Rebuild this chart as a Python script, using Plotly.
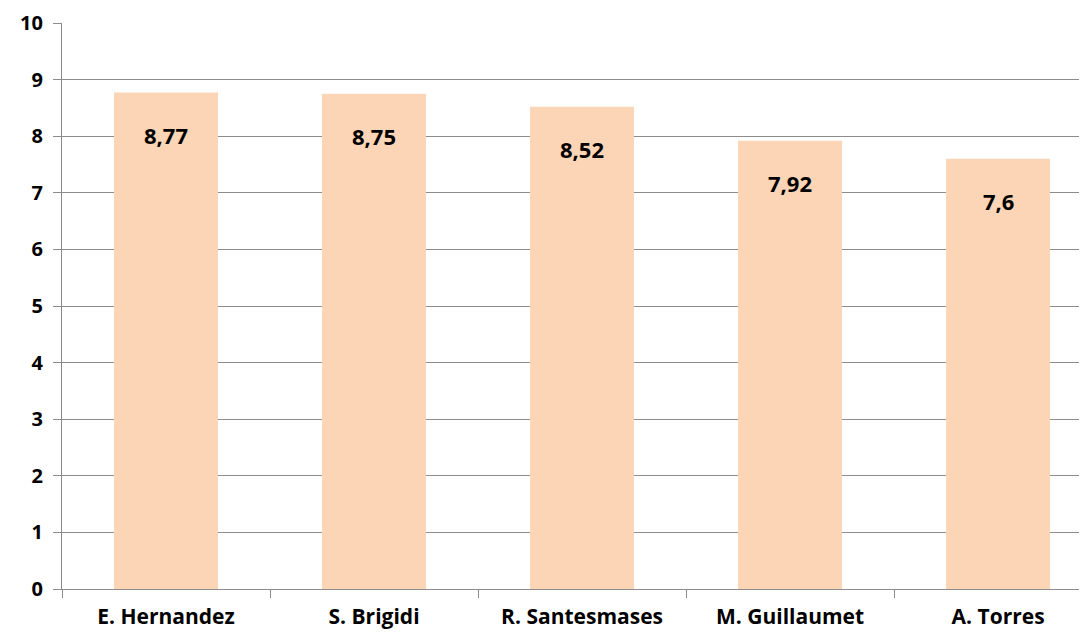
import plotly.graph_objects as go

# data
names = ["E. Hernandez", "S. Brigidi", "R. Santesmases", "M. Guillaumet", "A. Torres"]
scores = [8.77, 8.75, 8.52, 7.92, 7.6]
labels = ["8,77", "8,75", "8,52", "7,92", "7,6"]

BAR = "#FBD5B5"
GRID = "#8C8C8C"
FONT = "Open Sans"

fig = go.Figure(go.Bar(
    x=names, y=scores, marker=dict(color=BAR, line=dict(width=0)),
    width=0.5, hoverinfo="skip",
))

# data labels sit a bit under the top of each bar
for n, s, t in zip(names, scores, labels):
    fig.add_annotation(x=n, y=s, text=t, showarrow=False, yanchor="middle",
                       yshift=-42, font=dict(family=FONT, size=22, color="black", weight=700))

fig.update_layout(
    width=1087, height=634,
    margin=dict(l=54, r=0, t=15, b=53),
    paper_bgcolor="white", plot_bgcolor="white",
    showlegend=False,
    font=dict(family=FONT, size=19, color="black"),
)
fig.update_yaxes(
    range=[0, 10], dtick=1, showgrid=True, gridcolor=GRID, gridwidth=1.3,
    showline=True, linecolor=GRID, linewidth=1.3,
    ticks="outside", ticklen=8, tickcolor=GRID, tickwidth=1.3,
    tickfont=dict(family=FONT, size=20, color="black", weight=700),
    ticklabelstandoff=6, zeroline=False,
)
fig.update_xaxes(
    range=[-0.5, 4.466], showline=True, linecolor=GRID, linewidth=1.3,
    ticks="outside", ticklen=8, tickcolor=GRID, tickwidth=1.3, tickson="boundaries",
    tickfont=dict(family=FONT, size=21, color="black", weight=700),
    ticklabelstandoff=9,
)

fig.write_html("out.html")
